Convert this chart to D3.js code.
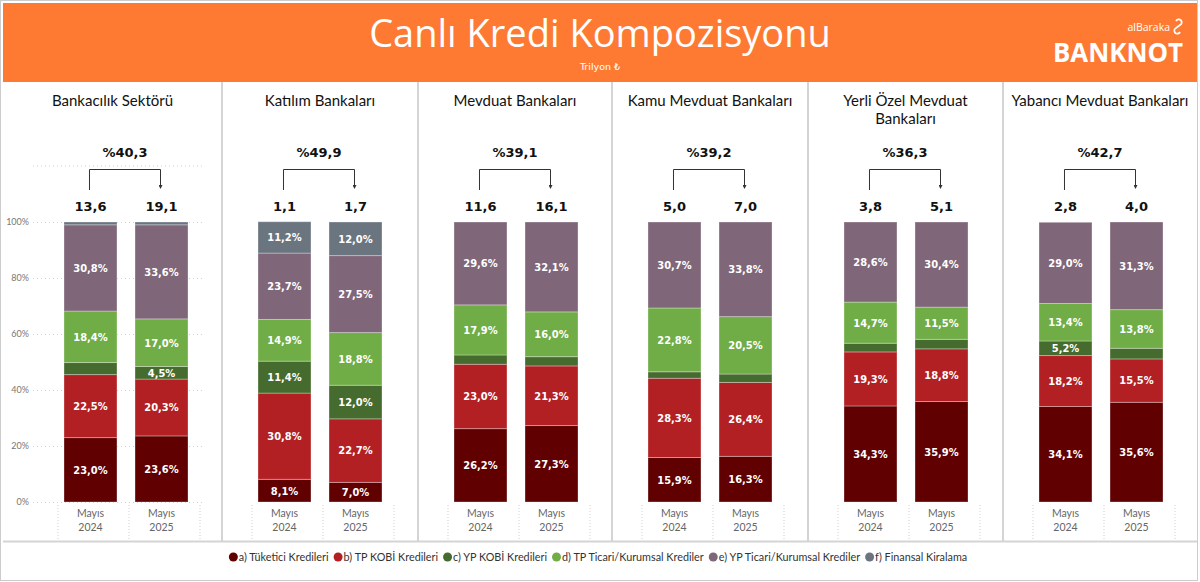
<!DOCTYPE html>
<html>
<head>
<meta charset="utf-8">
<script src="https://cdn.jsdelivr.net/npm/d3@7"></script>
<style>
  body { margin: 0; background: #fff; }
  svg { display: block; }
</style>
</head>
<body>
<div id="chart"></div>
<script>
// groups (panels) and periods
const groups = ["Bankacılık Sektörü", "Katılım Bankaları", "Mevduat Bankaları",
  "Kamu Mevduat Bankaları", "Yerli Özel Mevduat Bankaları", "Yabancı Mevduat Bankaları"];
const periods = ["Mayıs 2024", "Mayıs 2025"];

// totals (trilyon TL) and yearly growth (%)
const total2024 = [13.6, 1.1, 11.6, 5.0, 3.8, 2.8];
const total2025 = [19.1, 1.7, 16.1, 7.0, 5.1, 4.0];
const growth = [40.3, 49.9, 39.1, 39.2, 36.3, 42.7];

// shares (%) per group: [2024, 2025]
const tuketici = [[23.0, 23.6], [8.1, 7.0], [26.2, 27.3], [15.9, 16.3], [34.3, 35.9], [34.1, 35.6]];
const tpKobi = [[22.5, 20.3], [30.8, 22.7], [23.0, 21.3], [28.3, 26.4], [19.3, 18.8], [18.2, 15.5]];
const ypKobi = [[4.3, 4.5], [11.4, 12.0], [3.3, 3.3], [2.3, 3.0], [3.1, 3.4], [5.2, 3.8]];
const tpTicari = [[18.4, 17.0], [14.9, 18.8], [17.9, 16.0], [22.8, 20.5], [14.7, 11.5], [13.4, 13.8]];
const ypTicari = [[30.8, 33.6], [23.7, 27.5], [29.6, 32.1], [30.7, 33.8], [28.6, 30.4], [29.0, 31.3]];
const finKiralama = [[1.0, 1.0], [11.2, 12.0], [0, 0], [0, 0], [0, 0], [0, 0]];

const seriesNames = ["a) Tüketici Kredileri", "b) TP KOBİ Kredileri", "c) YP KOBİ Kredileri",
  "d) TP Ticari/Kurumsal Krediler", "e) YP Ticari/Kurumsal Krediler", "f) Finansal Kiralama"];
const seriesValues = [tuketici, tpKobi, ypKobi, tpTicari, ypTicari, finKiralama];
const colors = ["#600000", "#b22024", "#466b2e", "#70ad47", "#806679", "#6b7580"];

const yTicks = [0, 20, 40, 60, 80, 100];

const W = 1200, H = 582;
const svg = d3.select("#chart").append("svg")
  .attr("width", W)
  .attr("height", H);

const fmt = v => v.toFixed(1).replace(".", ",");

// header band
svg.append("rect")
  .attr("x", 3).attr("y", 3)
  .attr("width", 1194).attr("height", 79)
  .attr("fill", "#fe7a33");

svg.append("text")
  .attr("x", 600).attr("y", 47)
  .attr("text-anchor", "middle")
  .style("font-family", "'Open Sans', sans-serif")
  .style("font-size", "38px")
  .style("fill", "#fff")
  .text("Canlı Kredi Kompozisyonu");

svg.append("text")
  .attr("x", 600).attr("y", 70)
  .attr("text-anchor", "middle")
  .style("font-family", "'DejaVu Sans', 'Noto Sans', sans-serif")
  .style("font-size", "9.5px")
  .style("fill", "#fff")
  .text("Trilyon ₺");

// logo
svg.append("text")
  .attr("x", 1170).attr("y", 31)
  .attr("text-anchor", "end")
  .style("font-family", "'Open Sans', sans-serif")
  .style("font-size", "10.5px")
  .style("fill", "#fff")
  .text("alBaraka");
svg.append("path")
  .attr("d", "M1176,21 a3,3 0 1 1 4,4 l-4,3 a3,3 0 1 0 4,4")
  .attr("fill", "none")
  .attr("stroke", "#fff")
  .attr("stroke-width", 1.8);
svg.append("text")
  .attr("x", 1053).attr("y", 62)
  .attr("textLength", 130)
  .attr("lengthAdjust", "spacingAndGlyphs")
  .style("font-family", "'Open Sans', sans-serif")
  .style("font-size", "27px")
  .style("font-weight", "bold")
  .style("fill", "#fff")
  .text("BANKNOT");

// panels
const panelLeft = [3, 222, 418, 612, 808, 1003];
const panelRight = [...panelLeft.slice(1), 1197];

const y = d3.scaleLinear().domain([0, 100]).range([502, 222]);

// bottom line and separators
svg.append("line")
  .attr("x1", 3).attr("x2", 1197)
  .attr("y1", 541.5).attr("y2", 541.5)
  .attr("stroke", "#d4d4d4").attr("stroke-width", 2);
panelLeft.slice(1).forEach(px => {
  svg.append("line")
    .attr("x1", px).attr("x2", px)
    .attr("y1", 82).attr("y2", 541)
    .attr("stroke", "#d4d4d4").attr("stroke-width", 2);
});

const defs = svg.append("defs");
defs.append("marker")
  .attr("id", "arrow")
  .attr("viewBox", "0 0 6 6")
  .attr("refX", 3).attr("refY", 3)
  .attr("markerWidth", 4).attr("markerHeight", 4)
  .attr("orient", "auto")
  .append("path")
  .attr("d", "M0,0 L6,3 L0,6 Z")
  .attr("fill", "#333");

const keys = seriesNames.map((d, k) => k);

groups.forEach((name, i) => {
  const g = svg.append("g");
  const cx = (panelLeft[i] + panelRight[i]) / 2;
  const barStart = panelLeft[i] + (i === 0 ? 61 : 36);
  const x = d3.scaleBand().domain(periods)
    .range([barStart, barStart + 124])
    .paddingInner(0.254).paddingOuter(0);
  const bw = x.bandwidth();
  const gap = (x.step() - bw) / 3;

  // panel title (wrap when too wide)
  const title = g.append("text")
    .attr("x", cx).attr("y", 106)
    .attr("text-anchor", "middle")
    .style("font-family", "Lato, sans-serif")
    .style("font-size", "15px")
    .style("fill", "#111");
  title.text(name);
  if (title.node().getComputedTextLength() > panelRight[i] - panelLeft[i] - 8) {
    const words = name.split(" ");
    title.text(null);
    title.append("tspan").attr("x", cx).attr("dy", 0).text(words.slice(0, -1).join(" "));
    title.append("tspan").attr("x", cx).attr("dy", 18).text(words[words.length - 1]);
  }

  // gridlines and y axis on first panel
  if (i === 0) {
    g.append("g")
      .attr("transform", "translate(33,0)")
      .call(d3.axisRight(y).tickValues(yTicks).tickSize(172).tickFormat(""))
      .call(s => s.select(".domain").remove())
      .call(s => s.selectAll("line").attr("stroke", "#cfcfcf").attr("stroke-dasharray", "1,3"));
    g.append("g")
      .attr("transform", "translate(29,0)")
      .call(d3.axisLeft(y).tickValues(yTicks).tickSize(0).tickPadding(0).tickFormat(d => d + "%"))
      .call(s => s.select(".domain").remove())
      .call(s => s.selectAll("text")
        .style("font-family", "Lato, sans-serif")
        .style("font-size", "9px")
        .style("fill", "#777"));
    g.append("line")
      .attr("x1", 33).attr("x2", 205)
      .attr("y1", 166).attr("y2", 166)
      .attr("stroke", "#cfcfcf").attr("stroke-dasharray", "1,3");
  }

  // stacked data
  const rows = periods.map((p, j) => {
    const r = { period: p };
    keys.forEach(k => { r[k] = seriesValues[k][i][j]; });
    return r;
  });
  const stacked = d3.stack().keys(keys)(rows);

  stacked.forEach(layer => {
    const k = layer.key;
    g.selectAll(null)
      .data(layer.filter(d => d.data[k] > 0))
      .enter().append("rect")
      .attr("x", d => x(d.data.period))
      .attr("y", d => y(d[1]))
      .attr("width", bw)
      .attr("height", d => y(d[0]) - y(d[1]))
      .attr("fill", colors[k])
      .attr("stroke", "rgba(255,255,255,0.3)")
      .attr("stroke-width", 1);
    g.selectAll(null)
      .data(layer.filter(d => d.data[k] >= 4.5))
      .enter().append("text")
      .attr("x", d => x(d.data.period) + bw / 2)
      .attr("y", d => (y(d[0]) + y(d[1])) / 2)
      .attr("dy", "0.35em")
      .attr("text-anchor", "middle")
      .style("font-family", "'Liberation Sans Narrow', 'DejaVu Sans Condensed', sans-serif")
      .style("font-size", "11px")
      .style("font-weight", "bold")
      .style("fill", "#fff")
      .text(d => fmt(d.data[k]) + "%");
  });

  // x axis labels and dotted separators
  periods.forEach(p => {
    const [m, yr] = p.split(" ");
    const t = g.append("text")
      .attr("x", x(p) + bw / 2)
      .attr("text-anchor", "middle")
      .style("font-family", "Lato, sans-serif")
      .style("font-size", "10.5px")
      .style("fill", "#666");
    t.append("tspan").attr("x", x(p) + bw / 2).attr("y", 517).text(m);
    t.append("tspan").attr("x", x(p) + bw / 2).attr("y", 531).text(yr);
  });
  const seps = periods.map(p => x(p) - gap).concat([x(periods[1]) + x.step() - gap]);
  g.selectAll(null).data(seps).enter().append("line")
    .attr("x1", d => d).attr("x2", d => d)
    .attr("y1", 505).attr("y2", 540)
    .attr("stroke", "#d0d0d0").attr("stroke-dasharray", "1,2");

  // totals and growth bracket
  const totals = [total2024[i], total2025[i]];
  periods.forEach((p, j) => {
    g.append("text")
      .attr("x", x(p) + bw / 2)
      .attr("y", 211)
      .attr("text-anchor", "middle")
      .style("font-family", "'DejaVu Sans', sans-serif")
      .style("font-size", "13px")
      .style("font-weight", "bold")
      .style("fill", "#111")
      .text(fmt(totals[j]));
  });
  const x1 = x(periods[0]) + bw / 2 - 1, x2 = x(periods[1]) + bw / 2 - 1;
  g.append("path")
    .attr("d", `M${x1},190 V169.5 H${x2} V187`)
    .attr("fill", "none")
    .attr("stroke", "#333")
    .attr("stroke-width", 1)
    .attr("marker-end", "url(#arrow)");
  g.append("text")
    .attr("x", (x1 + x2) / 2)
    .attr("y", 157)
    .attr("text-anchor", "middle")
    .style("font-family", "'DejaVu Sans', sans-serif")
    .style("font-size", "13px")
    .style("font-weight", "bold")
    .style("fill", "#111")
    .text("%" + fmt(growth[i]));
});

// legend
const legend = svg.append("g");
let lx = 0;
seriesNames.forEach((n, k) => {
  const it = legend.append("g");
  it.append("circle").attr("cx", 4.5).attr("cy", 0).attr("r", 4.5).attr("fill", colors[k]);
  const t = it.append("text")
    .attr("x", 10).attr("dy", "0.35em")
    .style("font-family", "Lato, sans-serif")
    .style("font-size", "10.8px")
    .style("fill", "#333")
    .text(n);
  const w = 10 + t.node().getComputedTextLength();
  it.attr("transform", `translate(${lx},0)`);
  lx += w + 5;
});
legend.attr("transform", `translate(${598 - (lx - 5) / 2},557)`);

// outer dotted frame
svg.append("rect")
  .attr("x", 0.5).attr("y", 0.5)
  .attr("width", 1197).attr("height", 580)
  .attr("fill", "none")
  .attr("stroke", "#999")
  .attr("stroke-dasharray", "1,1");
</script>
</body>
</html>
